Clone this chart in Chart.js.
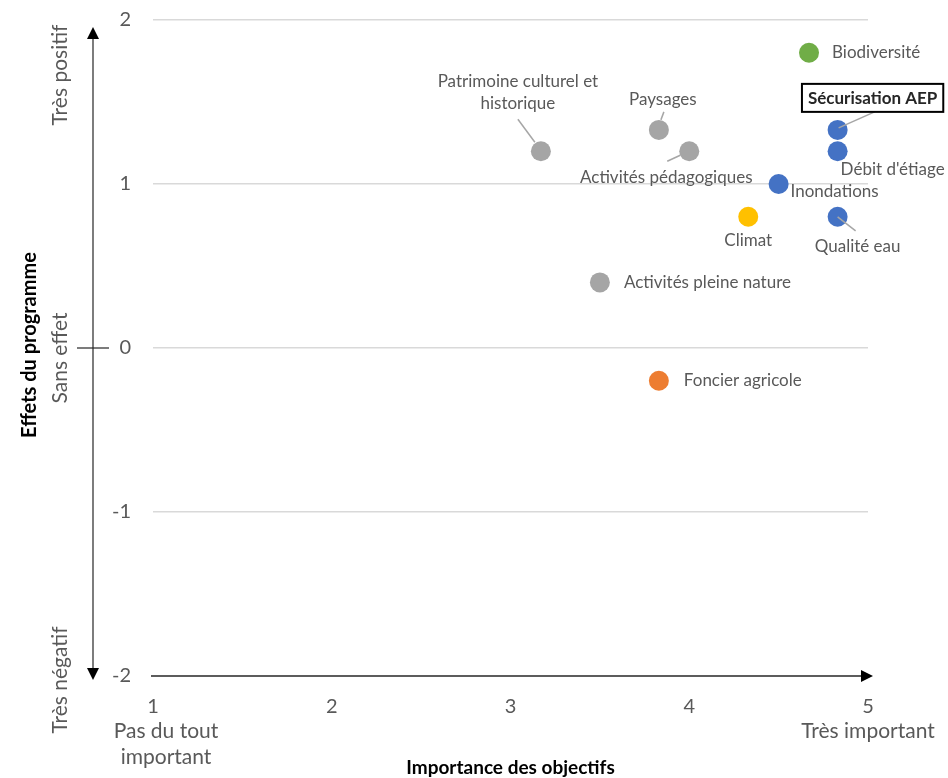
<!DOCTYPE html>
<html>
<head>
<meta charset="utf-8">
<script src="https://cdn.jsdelivr.net/npm/chart.js@4/dist/chart.umd.min.js"></script>
<style>
  html, body { margin: 0; padding: 0; background: #fff; }
  #wrap { width: 948px; height: 778px; position: relative; }
</style>
</head>
<body>
<div id="wrap"><canvas id="chart"></canvas></div>
<script>
// objectifs, importance (x) et effets du programme (y)
const objectifs = [
  'Biodiversité',
  'Sécurisation AEP',
  "Débit d'étiage",
  'Inondations',
  'Qualité eau',
  'Climat',
  'Patrimoine culturel et historique',
  'Paysages',
  'Activités pédagogiques',
  'Activités pleine nature',
  'Foncier agricole',
]
const importance = [4.67, 4.83, 4.83, 4.5, 4.83, 4.33, 3.17, 3.83, 4.0, 3.5, 3.83]
const effets = [1.8, 1.33, 1.2, 1.0, 0.8, 0.8, 1.2, 1.33, 1.2, 0.4, -0.2]
const xTicks = [1, 2, 3, 4, 5]
const yTicks = [-2, -1, 0, 1, 2]

const GREEN = '#70AD47'
const BLUE = '#4472C4'
const YELLOW = '#FFC000'
const GREY = '#A5A5A5'
const ORANGE = '#ED7D31'
const pointColors = [GREEN, BLUE, BLUE, BLUE, BLUE, YELLOW, GREY, GREY, GREY, GREY, ORANGE]

const FONT = 'Lato, "Open Sans", sans-serif'
const TEXT = '#595959'

// label placement, pixels from the point
const labelPos = [
  { dx: 23, dy: 0, align: 'left' },
  { dx: 35, dy: -32, align: 'center', boxed: true, leader: [1, -2, 37, -18] },
  { dx: 55, dy: 18, align: 'center' },
  { dx: 56, dy: 8, align: 'center' },
  { dx: 20, dy: 30, align: 'center', leader: [0, 0, 18, 14] },
  { dx: 0, dy: 24, align: 'center' },
  { dx: -23, dy: -70, align: 'center', lines: ['Patrimoine culturel et', 'historique'], leader: [-6, -9, -23, -32] },
  { dx: 4, dy: -30, align: 'center', leader: [2, -10, 5, -18] },
  { dx: -23, dy: 26, align: 'center', leader: [-9, 4, -22, 10] },
  { dx: 24, dy: 0, align: 'left' },
  { dx: 25, dy: 0, align: 'left' },
]

function arrowHead(ctx, x, y, dir) {
  ctx.beginPath()
  if (dir === 'up') {
    ctx.moveTo(x, y); ctx.lineTo(x - 6, y + 12); ctx.lineTo(x + 6, y + 12)
  } else if (dir === 'down') {
    ctx.moveTo(x, y); ctx.lineTo(x - 6, y - 12); ctx.lineTo(x + 6, y - 12)
  } else {
    ctx.moveTo(x, y); ctx.lineTo(x - 12, y - 6); ctx.lineTo(x - 12, y + 6)
  }
  ctx.closePath()
  ctx.fill()
}

const decor = {
  id: 'decor',
  beforeDatasetsDraw(chart) {
    const { ctx, chartArea, scales } = chart
    const y0 = scales.y.getPixelForValue(0)
    const yTop = scales.y.getPixelForValue(2)
    const yBot = scales.y.getPixelForValue(-2)
    ctx.save()
    ctx.strokeStyle = '#262626'
    ctx.fillStyle = '#000'
    ctx.lineWidth = 1.2
    // vertical double arrow
    const ax = 93
    ctx.beginPath(); ctx.moveTo(ax, yTop + 10); ctx.lineTo(ax, yBot - 2); ctx.stroke()
    arrowHead(ctx, ax, yTop + 7, 'up')
    arrowHead(ctx, ax, yBot + 4, 'down')
    // tick at 0
    ctx.beginPath(); ctx.moveTo(77, y0); ctx.lineTo(109, y0); ctx.stroke()
    // horizontal arrow
    ctx.lineWidth = 1.5
    ctx.beginPath(); ctx.moveTo(chartArea.left - 2, yBot); ctx.lineTo(chartArea.right + 2, yBot); ctx.stroke()
    arrowHead(ctx, chartArea.right + 5, yBot, 'right')

    // leader lines under the points
    const meta = chart.getDatasetMeta(0)
    ctx.strokeStyle = '#A6A6A6'
    ctx.lineWidth = 1.5
    meta.data.forEach((pt, i) => {
      const l = labelPos[i].leader
      if (!l || labelPos[i].boxed || i === 4) return
      ctx.beginPath(); ctx.moveTo(pt.x + l[0], pt.y + l[1]); ctx.lineTo(pt.x + l[2], pt.y + l[3]); ctx.stroke()
    })
    ctx.restore()
  },
  afterDatasetsDraw(chart) {
    const { ctx } = chart
    const meta = chart.getDatasetMeta(0)
    ctx.save()
    ctx.strokeStyle = '#A6A6A6'
    ctx.lineWidth = 1.5
    meta.data.forEach((pt, i) => {
      const l = labelPos[i].leader
      if (!l || !(labelPos[i].boxed || i === 4)) return
      ctx.beginPath(); ctx.moveTo(pt.x + l[0], pt.y + l[1]); ctx.lineTo(pt.x + l[2], pt.y + l[3]); ctx.stroke()
    })
    ctx.textBaseline = 'middle'
    meta.data.forEach((pt, i) => {
      const p = labelPos[i]
      const x = pt.x + p.dx
      const y = pt.y + p.dy
      ctx.textAlign = p.align
      if (p.boxed) {
        ctx.font = 'bold 17px ' + FONT
        const w = ctx.measureText(objectifs[i]).width
        ctx.fillStyle = '#fff'
        ctx.fillRect(x - w / 2 - 6, y - 14, w + 12, 28)
        ctx.strokeStyle = '#000'
        ctx.lineWidth = 2
        ctx.strokeRect(x - w / 2 - 6, y - 14, w + 12, 28)
        ctx.fillStyle = '#262626'
        ctx.fillText(objectifs[i], x, y + 1)
      } else {
        ctx.font = '17px ' + FONT
        ctx.fillStyle = TEXT
        const lines = p.lines || [objectifs[i]]
        lines.forEach((t, k) => ctx.fillText(t, x, y + k * 22))
      }
    })
    ctx.restore()
  },
  afterDraw(chart) {
    const { ctx, chartArea, scales } = chart
    ctx.save()
    ctx.fillStyle = TEXT
    ctx.textBaseline = 'middle'
    // rotated y labels
    const rot = (text, x, y, font, color) => {
      ctx.save()
      ctx.translate(x, y)
      ctx.rotate(-Math.PI / 2)
      ctx.textAlign = 'center'
      ctx.font = font
      ctx.fillStyle = color
      ctx.fillText(text, 0, 0)
      ctx.restore()
    }
    rot('Très positif', 60, 75, '21px ' + FONT, TEXT)
    rot('Sans effet', 60, 358, '21px ' + FONT, TEXT)
    rot('Très négatif', 60, 680, '21px ' + FONT, TEXT)
    rot('Effets du programme', 30, 345, 'bold 20px ' + FONT, '#000')
    // x axis captions
    ctx.textAlign = 'center'
    ctx.font = '21px ' + FONT
    const x1 = scales.x.getPixelForValue(1)
    const x5 = scales.x.getPixelForValue(5)
    ctx.fillText('Pas du tout', x1 + 13, 731)
    ctx.fillText('important', x1 + 13, 757)
    ctx.fillText('Très important', x5, 731)
    ctx.font = 'bold 19px ' + FONT
    ctx.fillStyle = '#000'
    ctx.fillText('Importance des objectifs', (chartArea.left + chartArea.right) / 2, 768)
    ctx.restore()
  },
}

new Chart(document.getElementById('chart'), {
  type: 'scatter',
  data: {
    datasets: [
      {
        data: importance.map((x, i) => ({ x, y: effets[i] })),
        backgroundColor: pointColors,
        borderWidth: 0,
        pointRadius: 10,
        pointHoverRadius: 10,
      },
    ],
  },
  options: {
    responsive: true,
    maintainAspectRatio: false,
    animation: false,
    layout: { padding: { top: 20, right: 80, left: 0, bottom: 0 } },
    scales: {
      x: {
        type: 'linear',
        min: 1,
        max: 5,
        afterBuildTicks: (s) => { s.ticks = xTicks.map((v) => ({ value: v })) },
        afterFit: (s) => { s.height = 102; s.paddingLeft = 0; s.paddingRight = 0 },
        grid: { display: false, drawTicks: false },
        border: { display: false },
        ticks: { color: TEXT, font: { family: FONT, size: 20 }, padding: 19 },
      },
      y: {
        type: 'linear',
        min: -2,
        max: 2,
        afterBuildTicks: (s) => { s.ticks = yTicks.map((v) => ({ value: v })) },
        afterFit: (s) => { s.width = 153; s.paddingTop = 0; s.paddingBottom = 0 },
        grid: { color: (c) => (c.tick.value === -2 ? 'rgba(0,0,0,0)' : '#D9D9D9'), lineWidth: 1.5, drawTicks: false },
        border: { display: false },
        ticks: { color: TEXT, font: { family: FONT, size: 20 }, padding: 22 },
      },
    },
    plugins: {
      legend: { display: false },
      tooltip: { enabled: false },
    },
  },
  plugins: [decor],
})
</script>
</body>
</html>
